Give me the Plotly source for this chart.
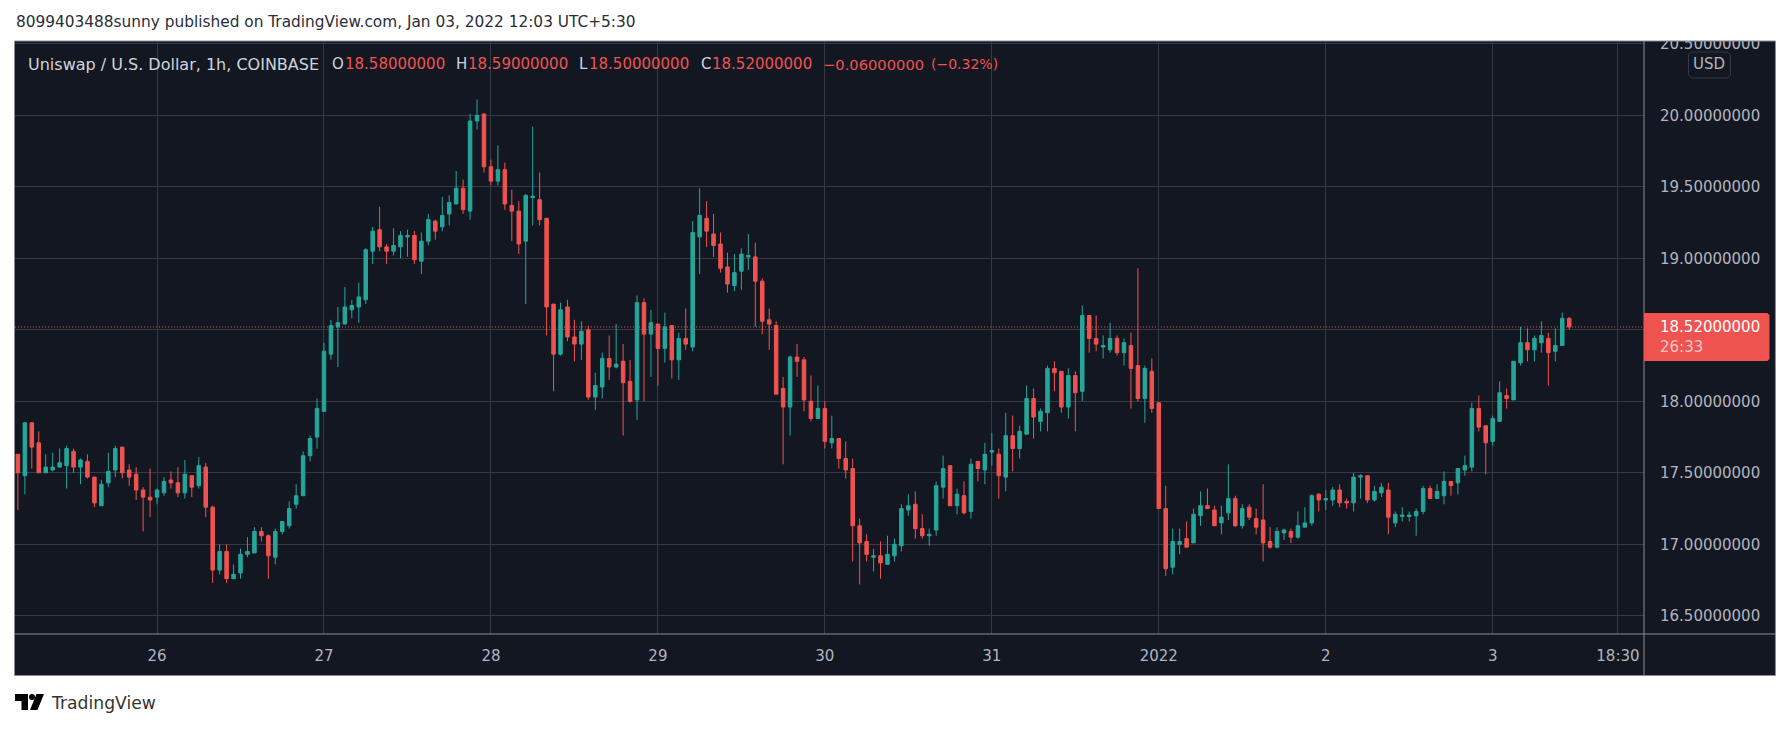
import pandas as pd
import plotly.graph_objects as go

opens = [
17.63,17.48,17.85,17.71,17.50,17.52,17.54,17.55,17.65,17.54,
17.58,17.47,17.27,17.43,17.52,17.68,17.52,17.49,17.38,17.33,
17.33,17.36,17.45,17.43,17.36,17.48,17.41,17.54,17.26,16.82,
16.95,16.76,16.80,16.93,16.94,17.09,17.06,16.91,17.09,17.13,
17.28,17.34,17.62,17.75,17.93,18.33,18.52,18.54,18.64,18.66,
18.71,19.05,19.20,19.08,19.05,19.08,19.15,19.16,18.98,19.12,
19.26,19.22,19.31,19.38,19.49,19.33,19.96,20.01,19.64,19.54,
19.62,19.37,19.33,19.12,19.425,19.41,19.28,18.68,18.33,18.66,
18.45,18.40,18.50,18.03,18.10,18.30,18.24,18.28,18.14,18.01,
18.69,18.47,18.54,18.37,18.53,18.29,18.44,18.38,19.15,19.28,
19.17,19.10,18.94,18.81,18.91,19.01,19.01,18.84,18.57,18.53,
18.09,17.96,18.31,18.29,18.00,17.88,17.95,17.71,17.74,17.60,
17.53,17.13,17.02,16.91,16.92,16.86,16.92,16.99,17.24,17.28,
17.11,17.06,17.10,17.40,17.55,17.27,17.34,17.23,17.58,17.52,
17.645,17.63,17.47,17.76,17.67,17.77,18.02,17.86,17.92,18.23,
18.21,17.96,18.18,18.07,18.60,18.44,18.38,18.36,18.44,18.34,
18.39,18.25,18.02,18.21,17.99,17.25,16.84,17.00,17.04,17.01,
17.20,17.27,17.24,17.15,17.22,17.32,17.13,17.26,17.18,17.17,
17.02,16.98,17.08,17.09,17.05,17.12,17.15,17.35,17.31,17.31,
17.38,17.30,17.29,17.47,17.48,17.31,17.36,17.38,17.15,17.195,
17.195,17.20,17.23,17.39,17.32,17.34,17.44,17.43,17.52,17.54,
17.95,17.83,17.72,17.86,18.04,18.01,18.27,18.41,18.36,18.41,
18.44,18.35,18.39,18.58]
highs = [
17.63,17.85,17.85,17.79,17.63,17.64,17.67,17.69,17.67,17.60,
17.63,17.47,17.45,17.64,17.69,17.68,17.56,17.54,17.40,17.53,
17.39,17.47,17.51,17.54,17.59,17.48,17.61,17.57,17.27,17.00,
17.00,16.86,16.97,17.05,17.12,17.12,17.07,17.11,17.16,17.30,
17.42,17.65,17.76,18.02,18.41,18.57,18.66,18.80,18.71,18.83,
19.07,19.22,19.36,19.10,19.21,19.19,19.20,19.19,19.18,19.31,
19.27,19.43,19.44,19.61,19.55,20.01,20.11,20.01,19.69,19.79,
19.67,19.48,19.40,19.45,19.92,19.60,19.28,18.68,18.69,18.71,
18.57,18.56,18.53,18.20,18.34,18.46,18.54,18.40,18.29,18.74,
18.72,18.64,18.54,18.62,18.53,18.48,18.65,19.26,19.49,19.40,
19.31,19.18,19.04,19.03,19.07,19.17,19.11,18.86,18.65,18.56,
18.17,18.32,18.40,18.31,18.18,18.11,18.00,17.90,17.74,17.72,
17.60,17.18,17.07,16.97,17.02,17.06,17.04,17.28,17.35,17.37,
17.21,17.11,17.44,17.62,17.55,17.39,17.44,17.60,17.58,17.71,
17.78,17.67,17.92,17.90,17.83,18.11,18.09,17.95,18.25,18.28,
18.21,18.23,18.21,18.67,18.60,18.60,18.46,18.55,18.46,18.44,
18.48,18.93,18.25,18.30,17.99,17.41,17.11,17.11,17.16,17.25,
17.37,17.39,17.27,17.27,17.56,17.34,17.28,17.28,17.25,17.42,
17.12,17.12,17.11,17.11,17.23,17.26,17.35,17.36,17.38,17.40,
17.42,17.32,17.50,17.49,17.48,17.41,17.43,17.43,17.23,17.26,
17.23,17.25,17.41,17.41,17.42,17.51,17.44,17.53,17.62,17.99,
18.04,17.83,17.90,18.14,18.09,18.28,18.52,18.51,18.46,18.56,
18.48,18.51,18.62,18.59]
lows = [
17.24,17.35,17.53,17.50,17.50,17.51,17.54,17.39,17.50,17.42,
17.46,17.26,17.27,17.40,17.47,17.46,17.41,17.31,17.09,17.19,
17.28,17.34,17.39,17.33,17.32,17.33,17.39,17.19,16.73,16.79,
16.73,16.76,16.76,16.91,16.94,17.02,16.76,16.86,17.07,17.11,
17.25,17.34,17.58,17.67,17.93,18.29,18.24,18.54,18.58,18.55,
18.68,18.96,19.05,18.96,19.02,19.00,19.01,18.96,18.89,19.09,
19.13,19.19,19.23,19.38,19.31,19.27,19.90,19.60,19.51,19.51,
19.34,19.12,19.03,18.68,19.23,19.23,18.46,18.07,18.32,18.42,
18.28,18.29,18.01,17.94,18.02,18.15,18.23,17.76,17.99,17.87,
18.00,18.17,18.11,18.27,18.16,18.15,18.36,18.35,18.89,19.08,
19.01,18.90,18.76,18.77,18.78,18.92,18.52,18.47,18.36,18.05,
17.56,17.76,18.17,17.93,17.86,17.88,17.67,17.67,17.53,17.46,
16.88,16.72,16.88,16.81,16.76,16.86,16.88,16.95,17.20,17.04,
17.04,16.99,17.06,17.32,17.27,17.21,17.21,17.18,17.44,17.42,
17.55,17.32,17.37,17.51,17.60,17.77,17.74,17.79,17.79,18.07,
17.92,17.88,17.79,18.00,18.34,18.35,18.30,18.34,18.32,18.25,
17.95,18.00,17.85,17.92,17.25,16.78,16.79,16.93,16.98,17.01,
17.13,17.25,17.13,17.07,17.17,17.12,17.11,17.17,17.07,16.88,
16.97,16.97,17.03,17.01,17.04,17.12,17.13,17.23,17.24,17.27,
17.26,17.25,17.23,17.32,17.29,17.30,17.33,17.07,17.12,17.16,
17.16,17.06,17.21,17.32,17.32,17.28,17.34,17.35,17.48,17.51,
17.79,17.49,17.69,17.86,17.95,18.01,18.25,18.28,18.28,18.34,
18.11,18.28,18.39,18.50]
closes = [
17.50,17.85,17.68,17.50,17.54,17.54,17.57,17.67,17.54,17.59,
17.47,17.29,17.42,17.51,17.67,17.50,17.47,17.38,17.33,17.31,
17.38,17.44,17.43,17.36,17.49,17.40,17.55,17.26,16.82,16.95,
16.76,16.79,16.93,16.95,17.09,17.06,16.92,17.09,17.16,17.25,
17.34,17.62,17.74,17.95,18.35,18.53,18.55,18.66,18.67,18.73,
19.06,19.19,19.08,19.05,19.09,19.16,19.16,18.99,19.12,19.27,
19.19,19.30,19.39,19.49,19.34,19.96,20.00,19.64,19.54,19.62,
19.38,19.33,19.10,19.44,19.435,19.27,18.66,18.33,18.64,18.45,
18.40,18.49,18.03,18.11,18.30,18.24,18.26,18.13,18.00,18.69,
18.47,18.55,18.37,18.52,18.29,18.44,18.40,19.18,19.30,19.19,
19.09,18.93,18.82,18.90,19.03,19.02,18.84,18.56,18.54,18.05,
17.96,18.31,18.28,18.01,17.88,17.95,17.72,17.74,17.60,17.52,
17.13,17.01,16.93,16.92,16.87,16.93,17.00,17.25,17.27,17.11,
17.06,17.07,17.41,17.53,17.27,17.35,17.22,17.56,17.53,17.63,
17.655,17.48,17.76,17.67,17.79,18.02,17.89,17.93,18.23,18.20,
17.96,18.18,18.06,18.60,18.44,18.40,18.39,18.44,18.34,18.41,
18.23,18.02,18.23,17.95,17.25,16.83,17.02,17.02,16.98,17.21,
17.27,17.25,17.13,17.19,17.32,17.13,17.25,17.19,17.12,17.01,
16.98,17.09,17.10,17.05,17.13,17.15,17.34,17.31,17.32,17.38,
17.29,17.29,17.47,17.48,17.31,17.37,17.40,17.19,17.21,17.205,
17.205,17.23,17.39,17.32,17.37,17.44,17.41,17.53,17.55,17.95,
17.82,17.71,17.88,18.06,18.02,18.28,18.41,18.36,18.44,18.46,
18.34,18.39,18.58,18.52]

times = pd.date_range("2021-12-25 04:00", periods=len(opens), freq="h")

x_tick_vals = ["2021-12-26", "2021-12-27", "2021-12-28", "2021-12-29", "2021-12-30",
               "2021-12-31", "2022-01-01", "2022-01-02", "2022-01-03", "2022-01-03 18:00"]
x_tick_text = ["26", "27", "28", "29", "30", "31", "2022", "2", "3", "18:30"]
y_tick_vals = [16.5, 17.0, 17.5, 18.0, 18.5, 19.0, 19.5, 20.0, 20.5]
# the 18.5 label is hidden behind the last-price tag in the reference
y_tick_text = ["16.50000000", "17.00000000", "17.50000000", "18.00000000", "",
               "19.00000000", "19.50000000", "20.00000000", "20.50000000"]
last_close = 18.52

BG = "#131722"; GRID = "#363a45"; UP = "#26a69a"; DOWN = "#ef5350"
TXT = "#b2b5be"; EDGE = "#8a8d96"; INK = "#2a2e39"
FONT = "DejaVu Sans"

# plot-box edges in page pixels
L, R, T, B = 15.0, 1644.5, 42.0, 634.0
def px(x): return (x - L) / (R - L)
def py(y): return (B - y) / (B - T)

fig = go.Figure(go.Candlestick(
    x=times, open=opens, high=highs, low=lows, close=closes,
    increasing=dict(line=dict(color=UP, width=1), fillcolor=UP),
    decreasing=dict(line=dict(color=DOWN, width=1), fillcolor=DOWN),
    whiskerwidth=0, hoverinfo="skip", showlegend=False))

def rect(x0, y0, x1, y1, fill=None, line=None, layer="below", lw=1):
    return dict(type="rect", xref="paper", yref="paper", x0=px(x0), x1=px(x1), y0=py(y0), y1=py(y1),
                fillcolor=fill or "rgba(0,0,0,0)", line=dict(color=line or "rgba(0,0,0,0)", width=lw if line else 0), layer=layer)

def pth(points, fill):
    d = "M " + " L ".join(f"{px(a):.5f},{py(b):.5f}" for a, b in points) + " Z"
    return dict(type="path", xref="paper", yref="paper", path=d, fillcolor=fill, line=dict(width=0), layer="above")

shapes = [
    rect(14.5, 41, 1776, 675.5, fill=BG, layer="below"),
    dict(type="line", xref="paper", yref="y", x0=0, x1=1, y0=last_close, y1=last_close,
         line=dict(color=DOWN, width=1, dash="1px,2px"), layer="below"),
    # clip the top tick label, then frame
    rect(1644.5, 0, 1791, 40.5, fill="white", layer="above"),
    rect(14.5, 41, 1776, 675.5, line=EDGE, layer="above"),
    dict(type="line", xref="paper", yref="paper", x0=px(14.5), x1=px(1776), y0=py(634), y1=py(634),
         line=dict(color=EDGE, width=1), layer="above"),
    dict(type="line", xref="paper", yref="paper", x0=1, x1=1, y0=py(41), y1=py(675.5),
         line=dict(color=EDGE, width=1), layer="above"),
    # last price tag
    pth([(1644.5, 313), (1768, 313), (1770, 315), (1770, 359), (1768, 361), (1644.5, 361)], DOWN),
    # USD button
    dict(type="path", xref="paper", yref="paper", layer="above", fillcolor=BG, line=dict(color=GRID, width=1),
         path="M " + " L ".join(f"{px(a):.5f},{py(b):.5f}" for a, b in
              [(1692, 52), (1728, 52), (1731, 55), (1731, 75), (1728, 78), (1692, 78), (1689, 75), (1689, 55)]) + " Z"),
    # TradingView mark
    pth([(15, 694), (28, 694), (28, 710), (21.5, 710), (21.5, 701), (15, 701)], "#000000"),
    pth([(36.5, 694), (44, 694), (37.5, 710), (30, 710)], "#000000"),
    dict(type="circle", xref="paper", yref="paper", x0=px(29), x1=px(35), y0=py(694), y1=py(700),
         fillcolor="#000000", line=dict(width=0), layer="above"),
]

def note(text, x, y, size, color, font=FONT, anchor="left"):
    return dict(text=text, x=px(x), y=py(y), xref="paper", yref="paper", showarrow=False,
                xanchor=anchor, yanchor="middle", borderpad=0, font=dict(family=font, size=size, color=color))

LEG = 15
annotations = [
    note("8099403488sunny published on TradingView.com, Jan 03, 2022 12:03 UTC+5:30", 15, 22, 15.35, INK),
    note("Uniswap / U.S. Dollar, 1h, COINBASE", 27, 64, 16, "#d1d4dc"),
    note("O", 331, 64, LEG, "#d1d4dc"), note("18.58000000", 344, 64, LEG, DOWN),
    note("H", 455, 64, LEG, "#d1d4dc"), note("18.59000000", 467.5, 64, LEG, DOWN),
    note("L", 578.5, 64, LEG, "#d1d4dc"), note("18.50000000", 588, 64, LEG, DOWN),
    note("C", 700, 64, LEG, "#d1d4dc"), note("18.52000000", 711, 64, LEG, DOWN),
    note("\u22120.06000000", 822, 64, 14.7, DOWN), note("(\u22120.32%)", 930, 64, 14, DOWN),
    note("USD", 1710, 64, 15, TXT, anchor="center"),
    note("18.52000000", 1660, 326.5, 15, "#ffffff"),
    note("26:33", 1660, 347, 15, "#f7c6c5"),
    note("TradingView", 50, 703, 17.2, "#333333"),
]

fig.update_layout(
    width=1791, height=729, autosize=False,
    margin=dict(l=L, r=1791 - R, t=T, b=729 - B, pad=0),
    paper_bgcolor="white", plot_bgcolor="rgba(0,0,0,0)",
    font=dict(family=FONT, size=15, color=TXT),
    boxgap=0.28, hovermode=False, showlegend=False,
    shapes=shapes, annotations=annotations,
    xaxis=dict(type="date", range=["2021-12-25 03:35", "2022-01-03 21:45"],
               rangeslider=dict(visible=False), tickmode="array", tickvals=x_tick_vals, ticktext=x_tick_text,
               tickangle=0, showgrid=True, gridcolor=GRID, gridwidth=1, zeroline=False, showline=False,
               ticks="", ticklabelstandoff=11, tickfont=dict(family=FONT, size=15, color=TXT)),
    yaxis=dict(side="right", range=[16.373, 20.5126], tickmode="array", tickvals=y_tick_vals,
               ticktext=y_tick_text, showgrid=True, gridcolor=GRID, gridwidth=1,
               zeroline=False, showline=False, ticks="", ticklabelstandoff=15,
               tickfont=dict(family=FONT, size=15, color=TXT)),
)

fig.write_html("out.html", config=dict(displayModeBar=False),
               post_script="document.body.style.margin='0';document.body.style.overflow='hidden';")
